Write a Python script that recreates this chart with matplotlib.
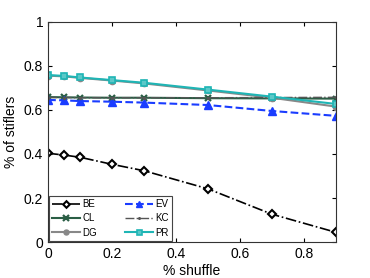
import numpy as np
import matplotlib.pyplot as plt

plt.rcParams['font.family'] = ['Liberation Sans', 'DejaVu Sans']

shuffle = [0, 0.05, 0.1, 0.2, 0.3, 0.5, 0.7, 0.9]
be = [0.403, 0.395, 0.385, 0.353, 0.324, 0.242, 0.127, 0.045]
cl = [0.658, 0.657, 0.656, 0.655, 0.655, 0.653, 0.652, 0.651]
dg = [0.755, 0.752, 0.745, 0.733, 0.72, 0.688, 0.655, 0.615]
ev = [0.645, 0.643, 0.640, 0.637, 0.633, 0.622, 0.595, 0.573]
kc = [0.656, 0.656, 0.655, 0.655, 0.655, 0.655, 0.656, 0.657]
pr = [0.758, 0.754, 0.747, 0.735, 0.723, 0.692, 0.66, 0.627]

fig = plt.figure(figsize=(3.7, 2.78), dpi=100)
ax = fig.add_axes([0.13, 0.129, 0.777, 0.793])

ax.plot(shuffle, be, color='black', ls='-.', marker='D', ms=4.2, mfc='white', mew=1.5, lw=1.2, label='BE')
ax.plot(shuffle, cl, color='#2a5e45', ls='-', marker='x', ms=5, mew=1.6, lw=1.5, label='CL')
ax.plot(shuffle, dg, color='#888888', ls='-', marker='o', ms=4.5, lw=1.5, label='DG')
ax.plot(shuffle, ev, color='#1a3cff', ls='--', marker='^', ms=5.5, lw=1.5, label='EV')
ax.plot(shuffle, kc, color='#555555', ls='-.', marker='.', ms=3, lw=1.0, label='KC')
ax.plot(shuffle, pr, color='#1fb5b5', ls='-', marker='s', ms=4.5, mfc='#5cc8c8', mew=1.2, lw=1.5, label='PR')

ax.set_xlim(0, 0.9)
ax.set_ylim(0, 1)
ax.set_xticks([0, 0.2, 0.4, 0.6, 0.8])
ax.set_xticklabels(['0', '0.2', '0.4', '0.6', '0.8'])
ax.set_yticks([0, 0.2, 0.4, 0.6, 0.8, 1])
ax.set_yticklabels(['0', '0.2', '0.4', '0.6', '0.8', '1'])
ax.tick_params(direction='in', labelsize=10, length=3, top=True, right=True)
for s in ax.spines.values():
    s.set_color('#333333')
ax.set_xlabel('% shuffle', fontsize=10, labelpad=2)
ax.set_ylabel('% of stiflers', fontsize=10, labelpad=4)

leg = ax.legend(ncol=2, loc='lower left', fontsize=7, frameon=True, fancybox=False, edgecolor='#444444',
                handlelength=2.8, columnspacing=2.9, labelspacing=0.45, borderpad=0.35,
                handletextpad=0.3, borderaxespad=0.1, framealpha=1, markerscale=0.8)
leg.get_frame().set_linewidth(0.8)

fig.savefig('out.png', dpi=100)
